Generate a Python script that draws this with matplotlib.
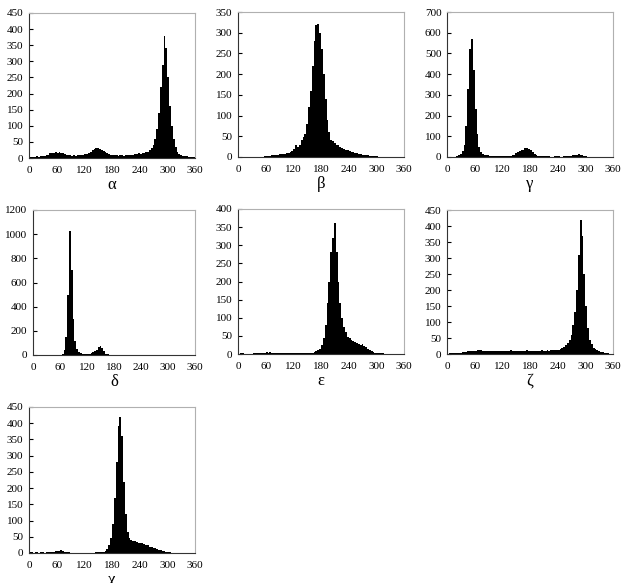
import matplotlib
matplotlib.use("Agg")
import matplotlib.pyplot as plt
import numpy as np

plt.rcParams['font.family'] = ['Liberation Serif', 'DejaVu Serif']

# bin centres (4-degree bins)
angles = np.arange(2, 360, 4)

alpha = [2,3,3,4,5,4,5,6,7,9,
         10,14,16,17,18,17,18,16,14,12,
         10,8,8,7,8,7,8,8,8,10,
         11,12,15,20,25,28,30,30,29,26,
         22,18,14,12,10,9,8,8,7,8,
         8,7,8,9,9,8,10,12,12,14,
         13,14,15,18,20,25,30,40,60,90,
         140,220,290,380,340,250,160,100,60,35,
         20,12,8,6,5,5,4,3,3,2]
beta = [0,0,0,0,0,0,0,0,1,1,
        1,1,1,1,2,2,3,3,4,5,
        6,6,7,7,8,8,9,10,12,15,
        20,28,25,30,40,48,55,80,120,160,
        220,280,318,320,300,260,200,140,90,60,
        42,38,34,30,28,24,22,20,18,16,
        14,12,11,10,9,8,7,6,5,4,
        4,3,3,2,2,2,1,1,1,1,
        1,0,0,0,0,0,0,0,0,0]
gamma = [0,0,0,0,1,3,8,15,30,60,
         150,330,520,570,420,230,110,50,25,15,
         12,10,8,6,5,5,4,4,3,3,
         3,4,4,5,6,8,12,18,22,28,
         32,36,42,45,40,32,24,16,10,7,
         5,4,4,3,3,3,2,2,3,3,
         3,2,2,3,3,4,5,6,8,10,
         12,13,12,10,7,4,2,1,1,0,
         0,0,0,0,0,0,0,0,0,0]
delta = [0,0,0,0,0,0,0,0,0,0,
         0,0,0,0,1,3,10,40,150,500,
         1030,700,300,120,50,25,15,10,8,8,
         10,12,15,22,30,45,65,75,55,30,
         12,5,2,1,0,0,0,0,0,0,
         0,0,0,0,0,0,0,0,0,0,
         0,0,0,0,0,0,0,0,0,0,
         0,0,0,0,0,0,0,0,0,0,
         0,0,0,0,0,0,0,0,0,0]
epsilon = [1,2,2,1,1,1,1,1,2,2,
           2,3,3,4,4,5,4,6,4,3,
           3,3,2,2,2,2,2,2,2,2,
           2,3,2,2,3,3,2,3,3,4,
           4,5,7,10,15,25,45,80,140,200,
           280,320,360,280,200,140,100,75,60,48,
           44,40,36,32,30,28,26,28,22,18,
           15,12,9,6,4,3,2,2,2,1,
           1,0,0,0,0,0,0,0,0,0]
zeta = [1,2,2,2,2,3,4,4,5,6,
        7,8,9,9,10,10,11,12,11,10,
        10,9,10,9,10,8,9,10,8,9,
        8,9,10,9,11,10,9,8,9,10,
        10,9,10,11,9,8,8,9,9,9,
        10,12,10,10,11,10,11,12,14,12,
        13,15,18,22,28,35,45,60,90,130,
        200,310,420,370,250,150,80,45,30,20,
        15,12,9,7,5,3,2,2,1,1]
chi = [2,2,1,2,2,1,2,2,1,2,
       2,2,3,4,5,6,7,8,5,3,
       2,2,1,1,1,1,1,1,1,1,
       1,1,1,1,1,1,2,2,2,3,
       4,6,12,25,45,90,170,280,390,420,
       360,220,120,65,45,40,38,36,34,32,
       30,30,28,26,24,20,18,16,14,12,
       10,8,7,5,4,3,2,1,1,0,
       0,0,0,0,0,0,0,0,0,0]

labels = ['α', 'β', 'γ', 'δ', 'ε', 'ζ', 'χ']
series = [alpha, beta, gamma, delta, epsilon, zeta, chi]
ymax = [450, 350, 700, 1200, 400, 450, 450]
ystep = [50, 50, 100, 200, 50, 50, 50]
xticks = [0, 60, 120, 180, 240, 300, 360]

W, H = 621, 583
# axes boxes in pixels: left, top, right, bottom
boxes = [(29, 13, 195, 158), (238, 12, 404, 157), (447, 12, 613, 157),
         (33, 210, 195, 355), (238, 209, 404, 354), (447, 210, 613, 354),
         (29, 407, 195, 553)]

fig = plt.figure(figsize=(W / 100, H / 100), dpi=100)
for lab, vals, ym, st, (l, t, r, b) in zip(labels, series, ymax, ystep, boxes):
    ax = fig.add_axes([l / W, 1 - b / H, (r - l) / W, (b - t) / H])
    ax.bar(angles, vals, width=4, color='black', linewidth=0)
    ax.set_xlim(0, 360)
    ax.set_ylim(0, ym)
    ax.set_xticks(xticks)
    ax.set_yticks(np.arange(0, ym + 1, st))
    ax.tick_params(axis='y', direction='in', length=3, width=0.8, labelsize=8, pad=4)
    ax.tick_params(axis='x', length=0, labelsize=8, pad=6)
    for s in ['top', 'right']:
        ax.spines[s].set_color('#b0b0b0')
        ax.spines[s].set_linewidth(0.8)
    for s in ['left', 'bottom']:
        ax.spines[s].set_color('#333333')
        ax.spines[s].set_linewidth(0.8)
    ax.set_xlabel(lab, fontsize=12, labelpad=1)

fig.savefig('out.png', dpi=100)
